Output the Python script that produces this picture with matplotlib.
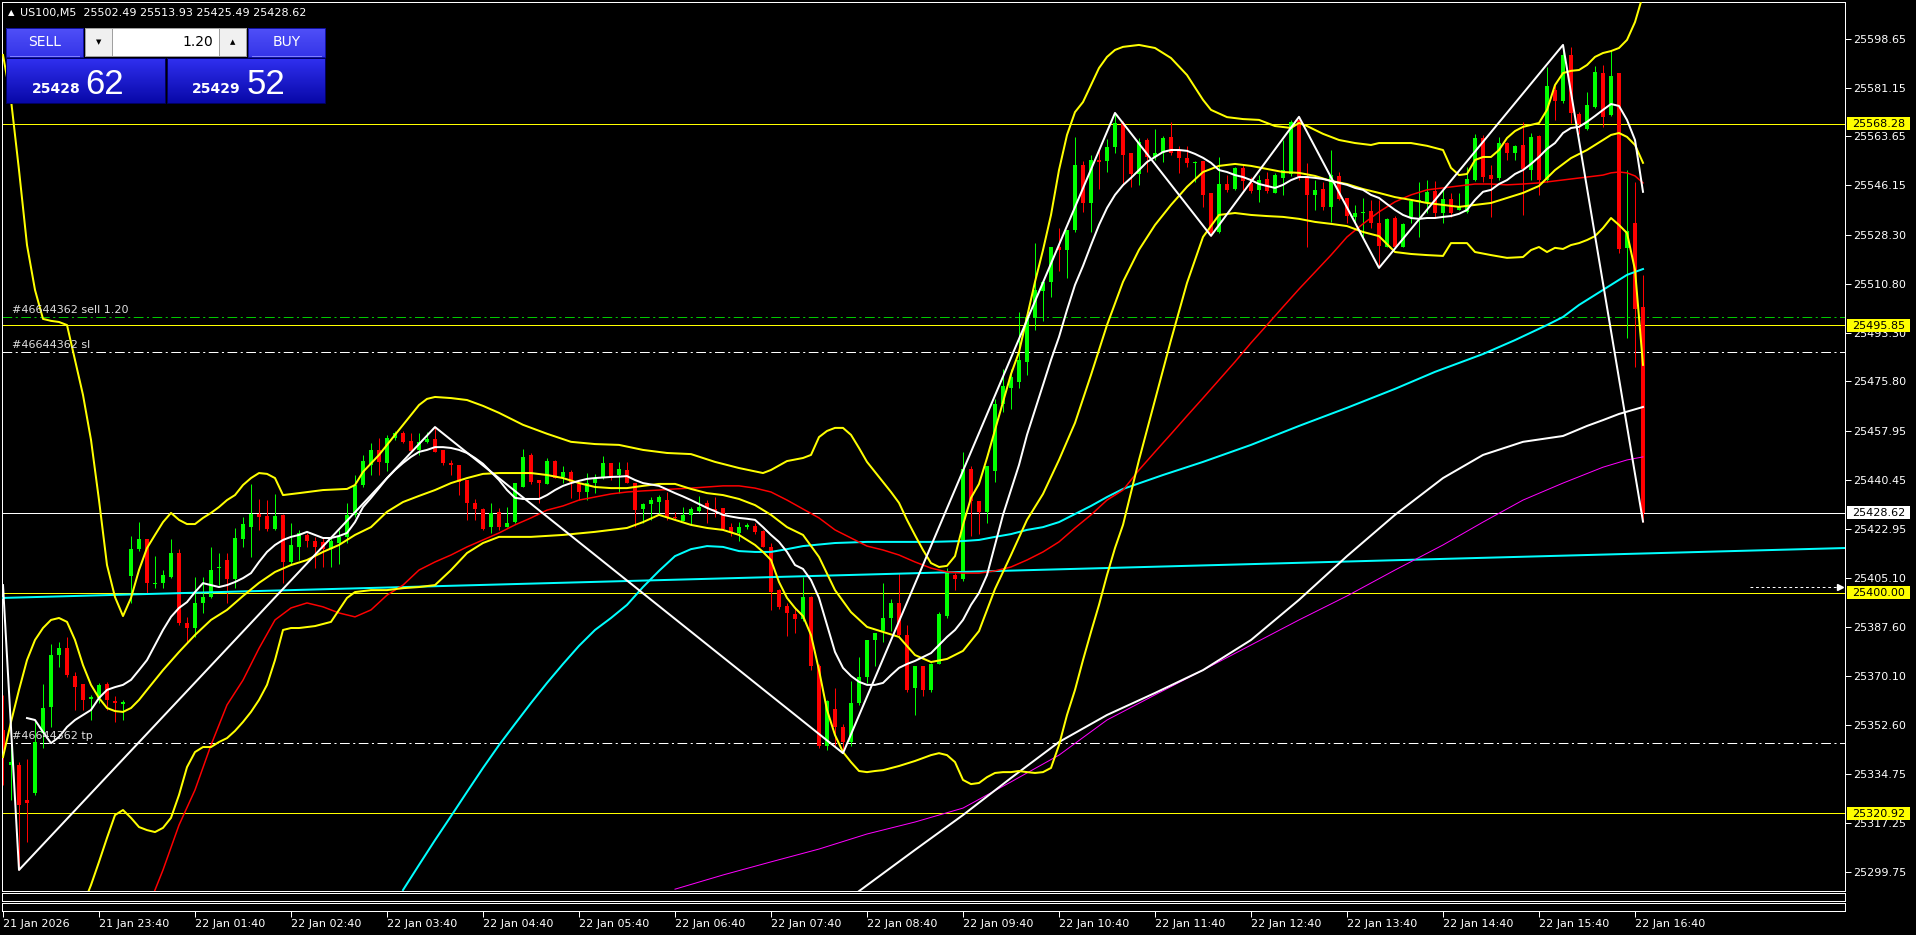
import numpy as np
import matplotlib
matplotlib.use('Agg')
import matplotlib.pyplot as plt
from matplotlib.colors import LinearSegmentedColormap
from matplotlib.patches import Rectangle

plt.rcParams['font.family'] = ['DejaVu Sans']
plt.rcParams['lines.scale_dashes'] = False

# ---------------- data ----------------
symbol_line = "US100,M5  25502.49 25513.93 25425.49 25428.62"
opens = [25350.7,25338.1,25338.1,25325.6,25328.1,25349.6,25359.0,25377.6,25380.1,25370.1,25367.2,25361.8,25362.2,25367.2,25361.1,25360.0,
 25405.9,25415.6,25419.2,25403.1,25403.4,25405.6,25414.2,25389.1,25387.3,25396.3,25398.4,25408.8,25411.7,25404.9,25419.2,25423.5,
 25428.2,25427.5,25422.8,25427.8,25411.0,25416.3,25420.7,25418.5,25418.2,25415.6,25417.8,25420.0,25427.8,25438.6,25445.8,25451.2,
 25446.5,25455.5,25457.3,25454.4,25451.2,25454.1,25455.1,25451.2,25446.5,25445.8,25440.4,25432.2,25430.0,25423.5,25428.9,25423.5,
 25425.3,25437.9,25449.4,25440.4,25439.0,25447.2,25441.5,25443.3,25439.0,25436.1,25439.3,25441.1,25446.5,25442.2,25444.0,25439.3,
 25430.0,25431.8,25432.5,25433.2,25427.1,25425.7,25427.8,25429.3,25432.2,25430.0,25430.4,25423.5,25421.4,25423.5,25424.0,25422.1,
 25416.3,25401.0,25395.2,25392.3,25390.6,25398.4,25373.8,25345.0,25358.3,25351.8,25346.4,25360.4,25369.7,25383.0,25386.2,25390.9,
 25396.3,25384.8,25365.8,25373.8,25365.1,25374.5,25391.6,25406.3,25404.9,25444.4,25432.9,25428.9,25443.7,25467.7,25473.4,25475.6,
 25482.8,25498.6,25508.3,25511.5,25524.0,25522.9,25530.1,25553.4,25539.8,25555.2,25554.9,25559.9,25568.5,25557.7,25550.2,25562.4,
 25556.3,25557.7,25563.5,25558.4,25555.9,25554.1,25554.9,25543.4,25529.4,25546.6,25544.8,25552.4,25547.0,25544.5,25548.4,25543.4,
 25548.8,25550.2,25569.6,25548.8,25542.7,25544.8,25538.4,25549.5,25541.6,25534.8,25536.2,25536.9,25532.6,25524.0,25534.4,25524.0,
 25534.8,25540.5,25540.2,25544.1,25536.2,25541.2,25537.3,25536.6,25548.1,25563.1,25549.8,25548.8,25561.3,25557.7,25560.6,25551.6,
 25563.8,25548.1,25580.4,25576.4,25592.9,25571.7,25566.4,25574.2,25586.4,25571.4,25586.4,25523.7,25532.6,25502.49]
highs = [25363.3,25350.0,25339.2,25340.3,25354.3,25367.2,25381.6,25382.2,25384.1,25371.5,25367.2,25363.3,25367.6,25367.9,25362.9,25361.5,
 25420.3,25425.3,25419.2,25413.1,25408.1,25419.2,25415.6,25391.4,25405.6,25405.6,25416.3,25414.2,25414.2,25423.2,25427.1,25439.0,
 25433.6,25433.2,25435.4,25428.2,25424.9,25422.5,25421.4,25420.0,25419.6,25420.0,25422.5,25432.2,25442.2,25449.4,25453.7,25455.5,
 25456.6,25458.0,25458.0,25457.3,25457.3,25457.6,25459.4,25451.2,25447.6,25445.8,25440.4,25433.6,25430.4,25432.2,25430.4,25430.7,
 25439.3,25451.5,25450.1,25440.4,25448.3,25447.6,25445.4,25444.0,25439.7,25442.9,25442.4,25449.0,25446.5,25446.9,25446.9,25439.3,
 25432.2,25434.3,25435.0,25436.1,25428.9,25430.7,25430.7,25434.7,25433.2,25434.3,25430.4,25424.9,25425.3,25424.9,25424.9,25422.5,
 25417.8,25401.3,25396.3,25394.9,25405.6,25398.8,25374.5,25361.5,25365.8,25352.9,25368.3,25376.9,25383.0,25385.5,25403.4,25397.7,
 25407.0,25388.4,25373.8,25373.8,25374.8,25393.1,25408.8,25407.0,25450.5,25445.4,25432.9,25445.4,25469.5,25480.2,25480.2,25500.7,
 25498.9,25525.3,25511.5,25524.0,25530.8,25530.1,25563.5,25554.9,25557.0,25558.8,25562.8,25572.1,25569.2,25557.7,25563.1,25563.1,
 25566.4,25563.8,25568.9,25560.2,25560.2,25554.9,25554.9,25543.4,25556.3,25549.8,25552.7,25553.4,25549.1,25549.8,25550.9,25550.6,
 25562.4,25569.6,25570.7,25554.2,25548.1,25547.3,25558.8,25550.9,25541.6,25539.1,25541.6,25540.9,25540.9,25534.4,25535.1,25532.6,
 25540.9,25547.3,25548.1,25547.7,25544.5,25543.4,25543.4,25552.7,25564.6,25564.2,25553.4,25563.5,25561.7,25560.6,25568.9,25564.9,
 25564.2,25588.6,25582.9,25596.5,25595.8,25572.5,25579.6,25589.0,25589.3,25594.7,25586.4,25551.6,25547.3,25513.93]
lows = [25331.0,25325.6,25300.5,25310.5,25327.4,25344.2,25351.8,25373.4,25369.7,25357.9,25357.9,25354.3,25360.4,25357.9,25353.6,25354.3,
 25396.3,25414.9,25399.8,25401.7,25401.7,25405.2,25388.4,25381.9,25384.1,25392.7,25398.1,25402.7,25396.3,25401.7,25416.3,25412.7,
 25422.5,25422.1,25422.5,25403.4,25409.9,25411.7,25416.3,25408.8,25409.2,25409.2,25410.3,25417.8,25427.1,25437.9,25442.2,25442.2,
 25443.7,25454.8,25453.7,25450.4,25449.4,25453.7,25450.4,25445.8,25442.2,25435.0,25426.1,25426.1,25422.5,25421.4,25422.5,25423.5,
 25425.0,25437.9,25439.0,25432.2,25439.0,25441.1,25439.3,25434.0,25433.2,25433.2,25435.8,25440.8,25440.4,25435.8,25439.3,25423.5,
 25425.0,25426.1,25428.6,25426.1,25426.1,25425.7,25424.3,25428.9,25425.0,25427.1,25422.5,25420.3,25418.5,25422.8,25421.0,25416.3,
 25393.8,25394.1,25384.4,25385.5,25389.9,25372.3,25344.2,25343.5,25345.0,25342.4,25345.0,25359.7,25367.6,25373.8,25382.3,25386.2,
 25384.4,25364.4,25356.1,25363.0,25364.4,25374.5,25390.9,25401.0,25404.2,25420.3,25421.0,25425.0,25439.7,25464.8,25465.9,25473.4,
 25478.1,25494.3,25497.5,25506.1,25515.4,25512.9,25529.4,25536.6,25529.4,25544.8,25551.0,25557.7,25546.2,25545.5,25546.2,25551.0,
 25555.2,25554.5,25557.0,25550.6,25552.7,25547.3,25538.4,25528.0,25529.1,25543.8,25544.5,25544.5,25543.4,25540.2,25543.4,25543.4,
 25542.7,25549.5,25548.1,25524.0,25537.3,25537.3,25533.0,25540.9,25532.6,25532.6,25527.6,25530.8,25516.5,25524.0,25524.0,25524.0,
 25532.6,25527.6,25536.2,25534.8,25532.6,25534.8,25537.3,25536.2,25547.7,25547.3,25534.8,25548.1,25555.2,25555.2,25535.5,25548.1,
 25542.7,25547.3,25569.6,25575.7,25568.5,25564.6,25566.0,25573.9,25567.1,25571.0,25521.9,25491.4,25481.0,25425.49]
closes = [25343.5,25339.2,25323.8,25324.5,25346.4,25358.6,25377.6,25380.1,25370.4,25366.1,25361.5,25362.5,25366.8,25361.5,25360.4,25360.8,
 25415.6,25419.2,25403.4,25403.4,25406.3,25414.2,25389.1,25387.3,25396.3,25398.4,25408.1,25409.2,25404.9,25419.6,25424.6,25428.2,
 25427.1,25422.8,25427.5,25411.0,25417.1,25421.4,25418.5,25416.3,25415.6,25418.5,25420.0,25427.8,25438.6,25447.2,25451.2,25446.9,
 25455.5,25457.3,25454.1,25450.8,25454.1,25455.1,25450.4,25446.5,25445.8,25439.7,25432.2,25430.0,25422.8,25428.6,25423.5,25425.0,
 25439.3,25448.7,25439.7,25439.3,25447.2,25441.1,25443.3,25439.7,25436.1,25439.3,25441.1,25446.5,25441.1,25444.4,25439.3,25429.6,
 25431.8,25433.2,25434.3,25427.1,25426.8,25427.8,25430.0,25430.7,25430.4,25429.3,25422.8,25421.4,25423.5,25424.3,25421.8,25416.3,
 25400.2,25394.9,25392.7,25390.6,25398.4,25373.8,25345.0,25361.1,25351.8,25346.4,25360.4,25369.7,25383.0,25385.5,25390.9,25396.3,
 25384.8,25365.1,25373.8,25365.1,25374.5,25392.3,25407.0,25404.9,25444.4,25432.9,25428.9,25445.4,25467.7,25474.1,25477.4,25483.5,
 25498.9,25508.6,25511.5,25524.0,25522.9,25530.1,25553.4,25539.8,25555.2,25554.5,25559.9,25568.5,25557.0,25550.2,25561.7,25556.3,
 25557.7,25563.1,25557.7,25555.9,25554.1,25554.5,25542.7,25529.1,25546.6,25544.5,25552.4,25547.7,25544.1,25548.1,25544.1,25549.8,
 25551.6,25568.9,25548.8,25542.7,25544.5,25538.4,25549.8,25541.2,25535.1,25536.2,25536.6,25532.6,25524.4,25534.1,25524.0,25532.3,
 25540.5,25540.9,25543.8,25536.2,25541.2,25536.2,25538.4,25548.4,25563.1,25549.1,25548.4,25561.3,25557.7,25560.2,25552.0,25563.5,
 25548.1,25581.8,25576.4,25592.9,25572.1,25568.1,25575.0,25586.8,25570.7,25585.4,25523.3,25529.8,25501.8,25428.62]

# Bollinger-type bands (yellow): (bar, price)
upper_bars = [0,1,2,3,4,5,6,7,8,9,10,11,12,13,14,15,16,17,18,19,20,21,22,23,24,25,26,27,28,29,30,31,32,33,34,35,37,40,43,44,45,47,49,51,52,53,54,56,58,60,62,65,68,71,74,77,80,83,86,89,92,95,96,98,100,101,102,103,104,105,106,107,108,109,110,111,112,113,114,115,116,117,118,119,120,121,122,123,124,125,126,127,128,129,130,131,132,133,134,135,136,137,138,139,140,142,144,146,148,150,151,153,155,157,159,161,162,163,165,167,169,171,172,174,176,178,180,181,182,183,184,185,186,187,188,189,190,191,192,193,194,195,196,197,198,199,200,201,202,203,204,205]
upper_vals = [25592.9,25576.8,25551.6,25524.7,25508.6,25498.2,25497.5,25497.1,25496.0,25483.5,25470.9,25454.8,25433.2,25409.9,25398.4,25391.6,25398.1,25408.1,25416.0,25420.7,25425.3,25428.6,25426.1,25424.6,25424.6,25426.8,25428.6,25430.7,25433.2,25435.0,25438.6,25441.1,25442.9,25442.6,25441.1,25435.0,25435.7,25436.8,25437.2,25438.6,25443.3,25449.4,25456.6,25463.7,25467.3,25469.5,25470.2,25469.8,25469.1,25467.0,25464.5,25460.2,25457.0,25454.1,25453.3,25453.0,25451.2,25450.1,25449.7,25446.9,25444.7,25442.9,25444.0,25447.2,25448.3,25449.4,25455.8,25458.0,25459.1,25459.1,25456.6,25451.9,25446.9,25443.3,25439.7,25436.1,25432.2,25426.1,25420.6,25415.3,25410.6,25409.2,25409.6,25413.1,25424.3,25434.0,25439.0,25448.3,25458.4,25468.4,25478.4,25486.3,25498.9,25511.5,25522.9,25535.5,25551.6,25564.2,25572.4,25576.0,25582.1,25588.2,25592.2,25594.7,25595.8,25596.5,25595.4,25591.8,25585.7,25576.8,25573.2,25570.6,25569.9,25569.6,25567.4,25566.7,25568.5,25567.4,25564.6,25562.4,25561.3,25560.6,25561.3,25561.3,25561.3,25560.3,25558.8,25552.4,25549.8,25550.2,25555.2,25556.3,25556.3,25558.8,25563.1,25565.6,25567.1,25567.8,25568.5,25573.2,25582.1,25586.4,25587.2,25587.5,25589.3,25592.2,25593.6,25594.3,25595.4,25598.3,25604.7,25614.4]
middle_bars = [0,1,2,3,4,5,6,7,8,9,10,11,12,13,14,15,16,17,18]+list(range(20,201,2))+[201,202,203,204,205]
middle_vals = [25341.0,25353.6,25365.1,25375.8,25383.0,25387.3,25390.2,25390.9,25389.5,25383.0,25374.0,25366.9,25362.2,25358.6,25357.5,25357.2,25358.6,25361.5,25365.1,
 25372.2,25378.7,25384.8,25390.2,25393.8,25398.8,25403.5,25407.4,25409.9,25411.7,25414.6,25417.1,25420.7,25423.5,25429.0,25432.5,25434.7,25436.8,25439.3,25441.1,
 25442.6,25442.9,25442.9,25442.9,25442.2,25441.1,25439.3,25437.9,25437.5,25437.5,25438.3,25439.0,25439.0,25437.2,25435.7,25435.0,25433.6,25431.4,25427.9,25423.5,
 25420.7,25412.8,25400.9,25393.0,25387.7,25385.9,25384.1,25377.6,25375.1,25376.2,25379.1,25386.2,25401.3,25413.5,25426.1,25435.4,25447.6,25460.9,25478.1,25496.0,
 25511.5,25523.0,25531.9,25539.1,25545.6,25550.9,25553.1,25553.8,25553.1,25552.0,25550.9,25550.6,25549.5,25547.7,25546.6,25544.8,25543.4,25541.9,25540.9,25539.8,
 25539.1,25538.4,25539.1,25539.8,25541.6,25543.4,25545.9,25551.6,25555.9,25558.8,25562.4,25564.2,25564.9,25563.5,25560.6,25554.2]
lower_bars = [10,11,12,13,14,15,16,17,18,19,20,21,22,23,24,25,26,27,28,29,30,31,32,33,34,35,36,37,39,41,43,44,46,48,50,52,54,56,58,60,62,66,70,74,78,80,82,84,86,88,90,92,94,95,96,97,98,99,100,101,102,103,104,105,106,107,108,109,110,112,114,116,117,118,119,120,121,122,123,124,125,126,127,128,129,130,131,132,133,134,135,136,137,138,139,140,142,144,146,148,150,152,154,156,158,160,162,164,166,168,170,172,174,176,178,180,181,183,184,186,188,190,191,192,193,194,195,196,197,198,199,200,201,202,203,204,205]
lower_vals = [25287.9,25295.1,25303.4,25312.0,25320.2,25322.0,25319.2,25315.9,25314.8,25314.1,25315.6,25319.2,25327.4,25337.4,25342.8,25344.6,25344.6,25346.4,25347.8,25350.4,25353.6,25357.2,25361.5,25366.9,25375.8,25386.6,25387.3,25387.3,25388.0,25389.5,25398.1,25400.2,25400.9,25400.9,25401.6,25402.0,25402.7,25408.1,25414.2,25417.8,25420.0,25420.0,25420.7,25421.8,25423.2,25425.3,25427.9,25426.1,25424.3,25423.2,25422.5,25420.7,25417.1,25414.6,25411.7,25403.8,25398.1,25394.5,25391.6,25384.8,25372.2,25357.9,25348.9,25342.8,25339.2,25336.0,25335.6,25336.0,25336.3,25337.8,25339.6,25341.7,25342.4,25341.7,25339.2,25332.8,25331.3,25331.7,25333.8,25335.3,25335.6,25335.6,25336.0,25335.6,25335.3,25335.6,25337.1,25345.3,25356.1,25365.1,25375.8,25385.9,25395.6,25406.3,25416.0,25424.3,25447.6,25469.1,25490.6,25511.1,25527.6,25535.5,25536.2,25535.5,25535.1,25534.8,25534.1,25533.0,25532.3,25531.5,25529.4,25527.9,25522.2,25521.5,25521.1,25520.8,25525.4,25525.4,25522.2,25521.1,25520.1,25520.4,25522.9,25524.0,25522.2,25523.7,25523.3,25524.7,25525.4,25526.5,25527.9,25530.8,25534.4,25531.9,25529.0,25515.8,25481.7]

# fast white moving average
fast_bars = list(range(3, 206))
fast_vals = [25355.0,25354.3,25350.0,25346.0,25348.2,25351.8,25354.3,25356.1,25357.9,25362.2,25365.1,25366.1,25366.9,25368.7,25372.2,25375.8,25381.2,25386.6,25391.3,25394.5,25396.6,25400.2,25403.4,25402.7,25402.0,25402.7,25403.8,25405.2,25407.0,25411.0,25414.6,25417.1,25418.9,25420.0,25420.7,25421.8,25420.7,25419.6,25419.6,25420.3,25421.4,25425.3,25430.7,25434.0,25437.5,25441.1,25444.0,25446.5,25448.7,25450.5,25451.2,25452.2,25452.2,25451.9,25451.2,25450.1,25448.3,25446.2,25443.3,25440.4,25436.8,25434.0,25433.6,25433.6,25433.6,25435.0,25436.8,25438.3,25439.3,25440.1,25440.8,25441.1,25441.3,25441.5,25441.6,25441.8,25440.4,25439.3,25438.8,25438.3,25437.0,25435.7,25434.5,25433.2,25431.8,25430.4,25429.2,25427.9,25427.3,25426.8,25426.5,25426.1,25423.5,25420.7,25418.2,25414.6,25409.9,25408.5,25404.5,25398.1,25388.4,25378.7,25373.0,25370.1,25368.0,25366.9,25366.9,25367.6,25370.4,25373.0,25374.4,25375.5,25376.9,25378.3,25381.2,25384.1,25386.6,25390.2,25395.6,25399.9,25406.3,25417.1,25427.9,25436.8,25445.8,25456.6,25465.5,25474.5,25483.5,25491.7,25501.4,25510.4,25517.2,25524.7,25531.9,25538.0,25542.7,25546.2,25548.8,25551.6,25554.5,25556.3,25558.1,25558.8,25558.8,25558.5,25557.4,25556.0,25554.2,25551.6,25550.9,25549.8,25549.1,25548.0,25546.6,25545.9,25545.2,25546.3,25548.0,25549.1,25549.1,25548.8,25548.4,25547.7,25547.0,25546.3,25545.2,25544.5,25542.7,25541.6,25539.4,25537.3,25535.5,25534.4,25534.1,25534.4,25534.4,25534.8,25535.1,25535.9,25537.3,25540.9,25543.8,25544.5,25546.6,25548.0,25550.2,25551.6,25553.8,25556.3,25559.2,25561.3,25564.9,25566.7,25567.1,25568.9,25571.0,25573.2,25575.3,25574.6,25569.6,25562.4,25543.8]

# red moving average
red_bars = list(range(18, 201, 2)) + [201, 202, 203, 204, 205]
red_vals = [25286.1,25300.5,25316.6,25329.2,25345.3,25359.7,25368.6,25380.0,25390.2,25394.5,25396.3,25394.9,25392.7,25391.3,25393.8,25399.1,25402.7,25408.1,25411.0,25413.5,25416.4,25418.9,25421.4,25424.3,25426.8,25429.6,25431.1,25433.2,25434.3,25435.4,25436.1,25436.5,25436.8,25437.2,25437.5,25437.9,25438.3,25438.3,25437.5,25436.1,25433.2,25430.0,25426.8,25422.5,25419.6,25416.7,25415.3,25413.5,25411.0,25408.8,25407.4,25407.0,25407.0,25407.8,25409.2,25411.7,25414.6,25418.2,25423.2,25427.9,25433.2,25436.8,25444.0,25450.5,25456.9,25463.4,25469.8,25476.3,25482.8,25489.6,25496.0,25502.5,25508.9,25515.0,25521.1,25527.6,25532.3,25536.6,25540.2,25542.7,25544.5,25545.2,25545.9,25546.6,25546.6,25546.3,25546.6,25547.0,25547.7,25548.4,25549.1,25549.8,25550.6,25550.9,25550.6,25549.5,25547.0]

# cyan moving average
cyan_bars = [50,52,54,56,58,60,62,64,66,68,70,72,74,76,78,80,82,84,86,88,90,92,94,96,98,100,104,108,112,116,120,122,124,126,128,130,132,134,136,138,140,145,150,156,162,168,174,179,185,189,193,195,197,199,201,203,205]
cyan_vals = [25293.3,25302.3,25311.2,25319.8,25328.5,25337.1,25345.3,25352.9,25360.4,25367.6,25374.4,25380.9,25386.6,25390.9,25395.6,25402.0,25407.8,25413.1,25415.6,25416.7,25416.4,25414.9,25414.6,25414.6,25415.6,25416.7,25417.8,25418.2,25418.2,25418.2,25418.5,25418.9,25420.0,25421.0,25422.5,25423.5,25425.3,25428.2,25431.1,25434.3,25437.2,25442.2,25446.9,25453.0,25459.8,25466.3,25473.1,25479.2,25485.6,25490.6,25496.0,25498.9,25503.2,25506.8,25510.4,25514.0,25516.1]

# magenta moving average
magenta_bars = [84,90,96,102,108,114,120,126,132,138,144,150,156,162,168,174,180,185,190,195,200,203,205]
magenta_vals = [25293.6,25298.7,25303.4,25308.0,25313.4,25317.7,25322.7,25332.1,25341.7,25354.3,25363.3,25372.2,25381.2,25390.2,25398.8,25408.1,25417.1,25425.3,25433.2,25439.3,25445.0,25447.6,25448.7]

# slow white moving average
slow_bars = [107,114,120,126,132,138,144,150,156,162,168,174,180,185,190,195,198,200,202,205]
slow_vals = [25292.9,25307.7,25320.2,25333.5,25346.4,25356.1,25364.0,25372.2,25383.0,25397.4,25413.1,25427.9,25441.1,25449.4,25454.1,25456.2,25459.8,25461.9,25464.1,25466.6]

# long cyan trend line (end points)
trend_bars = [0, 230.25]
trend_vals = [25398.1, 25416.0]

# zigzag vertices
zz_bars = [0, 2, 54, 105, 139, 151, 162, 172, 195, 205]
zz_vals = [25402.7, 25300.5, 25459.4, 25342.4, 25572.1, 25528.0, 25570.7, 25516.5, 25596.5, 25425.49]

# horizontal levels
yellow_levels = [25568.28, 25495.85, 25400.00, 25320.92]
bid_level = 25428.62
order_label = "#46644362"
order_open = 25498.8
order_sl = 25486.3
order_tp = 25345.9
arrow_level = 25402.1
arrow_from_bar = 218.4

ytick_vals = [25598.65, 25581.15, 25563.65, 25546.15, 25528.30, 25510.80, 25493.30, 25475.80, 25457.95,
              25440.45, 25422.95, 25405.10, 25387.60, 25370.10, 25352.60, 25334.75, 25317.25, 25299.75]
xtick_bars = list(range(0, 205, 12))
xtick_labels = ["21 Jan 2026", "21 Jan 23:40", "22 Jan 01:40", "22 Jan 02:40", "22 Jan 03:40", "22 Jan 04:40",
                "22 Jan 05:40", "22 Jan 06:40", "22 Jan 07:40", "22 Jan 08:40", "22 Jan 09:40", "22 Jan 10:40",
                "22 Jan 11:40", "22 Jan 12:40", "22 Jan 13:40", "22 Jan 14:40", "22 Jan 15:40", "22 Jan 16:40"]

lot_text = "1.20"
sell_big, sell_small = "25428", "62"
buy_big, buy_small = "25429", "52"

# ---------------- figure ----------------
W, H = 1916, 935
PX = 0.72
fig = plt.figure(figsize=(W / 100, H / 100), dpi=100, facecolor='black')

ax = fig.add_axes([2 / W, 1 - 891 / H, 1843 / W, 889 / H])
ax.set_facecolor('black')
XMIN, XMAX = -0.125, 230.25
ax.set_xlim(XMIN, XMAX)
ax.set_ylim(25292.95, 25611.9)
for s in ax.spines.values():
    s.set_color('white')
    s.set_linewidth(PX)
ax.yaxis.tick_right()
ax.set_yticks(ytick_vals)
ax.set_yticklabels([f'{v:.2f}' for v in ytick_vals])
ax.tick_params(axis='y', colors='white', labelsize=8, length=4, width=PX, pad=2, direction='out')
ax.set_xticks([])

# horizontal levels
for p in yellow_levels:
    ax.axhline(p, color='#ffff00', lw=PX, zorder=1.5)
ax.axhline(bid_level, color='white', lw=PX, zorder=1.5)
dd = (7, 2.5, 1.5, 2.5)
ax.axhline(order_open, color='#00c800', lw=PX, dashes=dd, zorder=1.5)
ax.axhline(order_sl, color='white', lw=PX, dashes=dd, zorder=1.5)
ax.axhline(order_tp, color='white', lw=PX, dashes=dd, zorder=1.5)

# candles
o, h, l, c = map(np.array, (opens, highs, lows, closes))
x = np.arange(len(o))
up = c >= o
cols = np.where(up, '#00ff00', '#ff0000')
ax.vlines(x, l, h, colors=cols, linewidth=PX, zorder=2)
body = np.maximum(np.abs(c - o), 0.45)
ax.bar(x, body, bottom=np.minimum(o, c), width=0.62, color=cols, linewidth=0, zorder=2.1)

# indicators
ax.plot(trend_bars, trend_vals, color='#00ffff', lw=2 * PX, zorder=3)
ax.plot(cyan_bars, cyan_vals, color='#00ffff', lw=2 * PX, zorder=3)
ax.plot(magenta_bars, magenta_vals, color='#ff00ff', lw=1 * PX, zorder=3)
ax.plot(slow_bars, slow_vals, color='white', lw=2 * PX, zorder=3)
ax.plot(red_bars, red_vals, color='#ff0000', lw=1.5 * PX, zorder=3)
ax.plot(upper_bars, upper_vals, color='#ffff00', lw=2 * PX, zorder=3)
ax.plot(middle_bars, middle_vals, color='#ffff00', lw=2 * PX, zorder=3)
ax.plot(lower_bars, lower_vals, color='#ffff00', lw=2 * PX, zorder=3)
ax.plot(fast_bars, fast_vals, color='white', lw=2 * PX, zorder=3)
ax.plot(zz_bars, zz_vals, color='white', lw=2 * PX, zorder=3.1)

# dotted arrow at the right
ax.plot([arrow_from_bar, XMAX - 0.6], [arrow_level, arrow_level], color='white', lw=PX,
        dashes=(2, 2), zorder=3)
ax.plot([XMAX - 0.6], [arrow_level], marker='>', color='white', markersize=5, zorder=3)

# order labels
tcol = '#e0e0e0'
for txt, p in [(f"{order_label} sell {lot_text}", order_open), (f"{order_label} sl", order_sl),
               (f"{order_label} tp", order_tp)]:
    ax.annotate(txt, xy=(1.1, p), xytext=(0, 2), textcoords='offset pixels', color=tcol,
                fontsize=8, ha='left', va='bottom', zorder=4)

# sub windows + time axis
for i, (y0, y1) in enumerate([(893, 901), (903, 911)]):
    a = fig.add_axes([2 / W, 1 - y1 / H, 1843 / W, (y1 - y0) / H])
    a.set_facecolor('black')
    a.set_xlim(XMIN, XMAX)
    a.set_yticks([])
    for s in a.spines.values():
        s.set_color('white')
        s.set_linewidth(PX)
    if i == 1:
        a.set_xticks(xtick_bars)
        a.set_xticklabels(xtick_labels)
        a.tick_params(axis='x', colors='white', labelsize=8, length=4, width=PX, pad=2, direction='out')
        for t in a.get_xticklabels():
            t.set_ha('left')
    else:
        a.set_xticks([])

# overlay for panel and price tags
ov = fig.add_axes([0, 0, 1, 1], zorder=10)
ov.set_xlim(0, W)
ov.set_ylim(H, 0)
ov.axis('off')
ov.patch.set_alpha(0)


def grad_rect(x0, y0, x1, y1, c_top, c_bot, ec=None):
    cm = LinearSegmentedColormap.from_list('g', [c_top, c_bot])
    ov.imshow(np.linspace(0, 1, 64)[:, None], extent=(x0, x1, y1, y0), cmap=cm, aspect='auto',
              interpolation='bilinear', zorder=1)
    if ec:
        ov.add_patch(Rectangle((x0, y0), x1 - x0, y1 - y0, fill=False, ec=ec, lw=PX, zorder=2))


def py(p):
    return H - ax.transData.transform((0, p))[1]


for p in yellow_levels:
    yc = py(p)
    ov.add_patch(Rectangle((1847, yc - 6.5), 63, 13, fc='#ffff00', ec='none', zorder=3))
    ov.text(1852, yc + 0.5, f'{p:.2f}', color='black', fontsize=8, ha='left', va='center', zorder=4)
yc = py(bid_level)
ov.add_patch(Rectangle((1847, yc - 6.5), 63, 13, fc='white', ec='none', zorder=3))
ov.text(1852, yc + 0.5, f'{bid_level:.2f}', color='black', fontsize=8, ha='left', va='center', zorder=4)

# header
ov.text(8, 13, '\u25b2', color='white', fontsize=6, ha='left', va='center')
ov.text(20, 13, symbol_line, color='white', fontsize=8, ha='left', va='center')

# one-click panel
grad_rect(6, 28, 83, 57, '#5050f8', '#3434e8', ec='#1010a0')
ov.plot([10, 79], [56, 56], color='#8080ff', lw=PX, zorder=3)
ov.text(44.5, 42, 'SELL', color='white', fontsize=10, ha='center', va='center', zorder=4)
grad_rect(248, 28, 325, 57, '#5050f8', '#3434e8', ec='#1010a0')
ov.plot([252, 321], [56, 56], color='#8080ff', lw=PX, zorder=3)
ov.text(286.5, 42, 'BUY', color='white', fontsize=10, ha='center', va='center', zorder=4)
ov.add_patch(Rectangle((85, 28), 161, 28, fc='white', ec='#a0a0a0', lw=PX, zorder=2))
ov.add_patch(Rectangle((85, 28), 27, 28, fc='#f0f0f0', ec='#a0a0a0', lw=PX, zorder=2.5))
ov.add_patch(Rectangle((219, 28), 27, 28, fc='#f0f0f0', ec='#a0a0a0', lw=PX, zorder=2.5))
ov.text(98.5, 42, '\u25bc', color='black', fontsize=5, ha='center', va='center', zorder=4)
ov.text(232.5, 42, '\u25b2', color='black', fontsize=5, ha='center', va='center', zorder=4)
ov.text(213, 42, lot_text, color='black', fontsize=10, ha='right', va='center', zorder=4)
grad_rect(6, 58, 165, 103, '#3030f0', '#0808a8', ec='#000060')
grad_rect(167, 58, 325, 103, '#3030f0', '#0808a8', ec='#000060')
ov.text(32, 93, sell_big, color='white', fontsize=10, fontweight='bold', ha='left', va='baseline', zorder=4)
ov.text(85, 94, sell_small, color='white', fontsize=25, family='Liberation Sans', ha='left', va='baseline', zorder=4)
ov.text(192, 93, buy_big, color='white', fontsize=10, fontweight='bold', ha='left', va='baseline', zorder=4)
ov.text(247, 94, buy_small, color='white', fontsize=25, family='Liberation Sans', ha='left', va='baseline', zorder=4)
ov.set_xlim(0, W)
ov.set_ylim(H, 0)

fig.savefig('out.png', dpi=100, facecolor='black')
